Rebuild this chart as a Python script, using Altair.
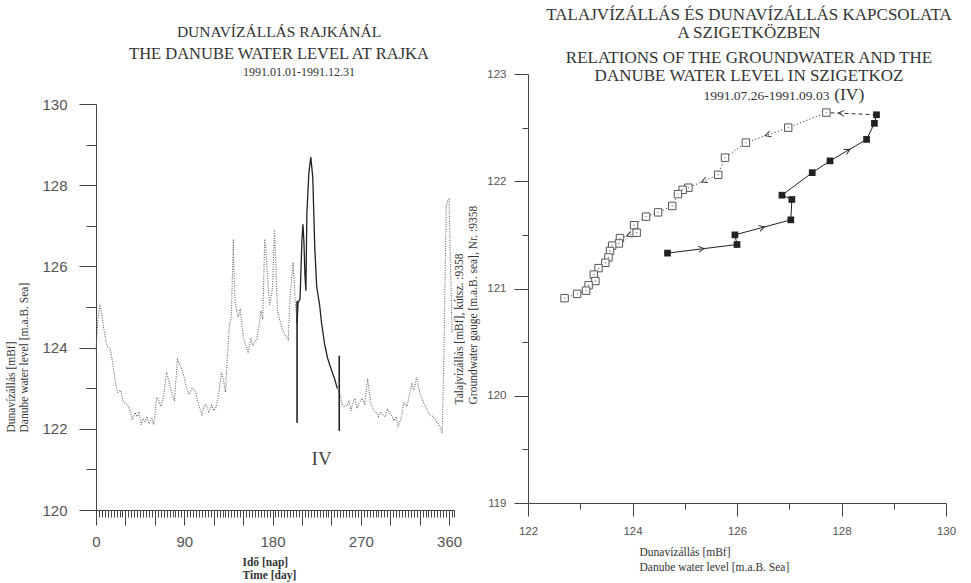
import math
import altair as alt
import pandas as pd

# ---------------- left panel: Danube water level at Rajka, 1991 ----------------
pre_days = [0, 2, 4, 6, 8, 11, 13, 15, 18, 20, 22, 25, 28, 32, 35, 37, 40, 42, 44, 46,
            48, 50, 52, 54, 57, 59, 62, 64, 66, 69, 72, 74, 76, 78, 80, 83, 85, 88, 91, 93,
            95, 98, 101, 103, 105, 108, 110, 112, 115, 118, 120, 122, 125, 128, 130, 132, 134, 136, 138, 140,
            141, 142, 144, 145, 147, 150, 152, 155, 158, 160, 162, 164, 166, 168, 170, 172, 173, 174, 176, 177,
            179, 180, 182, 183, 185, 188, 190, 193, 196, 198, 201, 203, 205]
pre_levels = [123.95, 124.7, 125.08, 124.8, 124.45, 124.05, 124.0, 123.92, 123.45, 123.1,
              122.9, 122.95, 122.65, 122.6, 122.45, 122.22, 122.4, 122.3, 122.42, 122.1,
              122.25, 122.18, 122.3, 122.12, 122.25, 122.1, 122.78, 122.7, 122.55, 122.8,
              123.4, 123.2, 123.0, 122.85, 122.68, 123.7, 123.6, 123.45, 123.15, 122.95,
              122.85, 123.0, 122.95, 122.75, 122.55, 122.35, 122.55, 122.6, 122.42, 122.58,
              122.45, 122.5, 122.85, 123.4, 123.2, 122.9, 123.8, 124.55, 124.75, 126.67,
              125.6, 125.1, 124.85, 124.75, 124.95, 124.3, 124.1, 123.9, 124.2, 124.05,
              124.15, 124.2, 124.5, 124.9, 124.7, 126.67, 126.5, 126.1, 125.4, 125.05,
              125.3, 125.5, 126.9, 126.3, 124.9, 124.62, 124.45, 124.3, 124.2, 125.28,
              126.1, 125.2, 124.6]

iv_days = [205, 206, 208, 210, 211, 212, 213, 214, 215, 217, 219, 221, 223, 225, 228, 230,
           233, 236, 240, 243, 246]
iv_levels = [124.6, 125.1, 125.2, 126.67, 127.04, 126.6, 125.8, 125.4, 127.3, 128.3, 128.69,
             128.2, 126.5, 125.5, 125.05, 124.6, 124.1, 123.75, 123.45, 123.25, 123.0]

post_days = [246, 249, 251, 253, 256, 258, 260, 262, 264, 266, 268, 271, 274, 277, 280, 283,
             286, 288, 290, 292, 295, 297, 299, 302, 304, 306, 308, 311, 314, 317, 320, 322,
             324, 327, 329, 331, 334, 336, 339, 341, 344, 346, 348, 350, 353, 355, 357, 358,
             360, 361, 363, 365]
post_levels = [123.0, 122.82, 122.6, 122.55, 122.57, 122.7, 122.45, 122.65, 122.75, 122.5,
               122.62, 122.75, 122.62, 123.23, 122.65, 122.45, 122.4, 122.3, 122.42, 122.35,
               122.3, 122.5, 122.4, 122.3, 122.2, 122.3, 122.05, 122.25, 122.65, 122.55,
               122.9, 123.1, 122.95, 123.27, 123.0, 122.82, 122.65, 122.55, 122.4, 122.33,
               122.3, 122.22, 122.15, 122.1, 121.9, 124.2, 127.4, 127.6, 127.65, 126.5,
               124.4, 124.45]

marker_days = [205, 248]
marker_low = [122.15, 121.95]
marker_high = [125.15, 123.8]

period_label = ["IV"]
period_label_day = [230]
period_label_level = [121.25]

left_date_text = ["1991.01.01-1991.12.31"]
left_date_pos = ([207], [130.79])

left_x_major = [0, 30, 60, 90, 120, 150, 180, 210, 240, 270, 300, 330, 360]
left_x_minor = [d for d in range(0, 366, 3)] + [365]
left_y_major = [120, 122, 124, 126, 128, 130]
left_y_minor = [121, 123, 125, 127, 129]

# ---------------- right panel: groundwater vs Danube level ----------------
rise_danube = [124.67, 126.00, 125.96, 127.03, 127.05, 126.86, 127.44, 127.78, 128.48, 128.63, 128.67]
rise_ground = [121.33, 121.41, 121.50, 121.64, 121.83, 121.87, 122.08, 122.19, 122.39, 122.54, 122.62]

fall_danube = [127.71, 126.98, 126.17, 125.77, 125.64, 125.07, 124.96, 124.87, 124.76, 124.49,
               124.26, 124.03, 124.08, 123.76, 123.74, 123.61, 123.57, 123.54, 123.48, 123.35,
               123.26, 123.29, 123.16, 123.11, 122.94, 122.70]
fall_ground = [122.64, 122.50, 122.36, 122.22, 122.06, 121.94, 121.92, 121.88, 121.77, 121.71,
               121.67, 121.59, 121.52, 121.47, 121.42, 121.40, 121.35, 121.29, 121.24, 121.19,
               121.13, 121.07, 121.03, 120.98, 120.95, 120.91]

rise_arrow_segments = [0, 2, 7]
fall_arrow_segments = [1, 4, 12]
right_x_major = [122, 124, 126, 128, 130]
right_x_minor = [123, 125, 127, 129]
right_y_major = [119, 120, 121, 122, 123]
right_y_minor = [119.5, 120.5, 121.5, 122.5]

date_text = ["1991.07.26-1991.09.03"]
date_pos = ([127.77], [122.795])
iv_text = ["(IV)"]
iv_pos = ([127.86], [122.805])

# ---------------- styling ----------------
LW, LH, LTOP = 358, 436, 30
RW, RH = 418, 429
serif = "Liberation Serif"
sans = "Liberation Sans"
ink = "#333333"
dot_ink = "#666666"

xl = alt.Scale(domain=[0, 365], nice=False, zero=False)
yl = alt.Scale(domain=[120, 130], range=[LH, LTOP], nice=False, zero=False)

pre = pd.DataFrame({"day": pre_days, "lvl": pre_levels, "seg": "pre"})
post = pd.DataFrame({"day": post_days, "lvl": post_levels, "seg": "post"})
dotted_df = pd.concat([pre, post], ignore_index=True)
iv_df = pd.DataFrame({"day": iv_days, "lvl": iv_levels})
mark_df = pd.DataFrame({"day": marker_days, "lo": marker_low, "hi": marker_high})
lab_df = pd.DataFrame({"day": period_label_day, "lvl": period_label_level, "t": period_label})
ldate_df = pd.DataFrame({"day": left_date_pos[0], "lvl": left_date_pos[1], "t": left_date_text})

left_main = alt.Chart(dotted_df).mark_line(
    color=dot_ink, strokeWidth=1.1, strokeDash=[1, 1.4]
).encode(
    x=alt.X("day:Q", scale=xl, axis=alt.Axis(
        orient="bottom", values=left_x_major,
        labelExpr="datum.value % 90 === 0 ? datum.label : ''",
        tickSize=15, labelPadding=9, labelFontSize=15, labelFlush=False, labelOverlap=False,
        title=["Idő [nap]", "Time [day]"], titleFont=serif, titleFontSize=11.5,
        titleFontWeight="bold", titleAlign="left", titleX=146, titleY=46,
        titleBaseline="top", titleLineHeight=13.5)),
    y=alt.Y("lvl:Q", scale=yl, axis=alt.Axis(
        orient="left", values=left_y_major, tickSize=17, labelPadding=12,
        labelFontSize=15, labelFlush=False, labelOverlap=False,
        title=["Dunavízállás [mBf]", "Danube water level [m.a.B. Sea]"],
        titleFont=serif, titleFontSize=11.5, titleFontWeight="normal",
        titleAlign="left", titleBaseline="top", titleX=-91, titleY=358,
        titleLineHeight=13)),
    detail="seg:N",
)

left_iv = alt.Chart(iv_df).mark_line(color="#222222", strokeWidth=1.3).encode(
    x=alt.X("day:Q", scale=xl, axis=None),
    y=alt.Y("lvl:Q", scale=yl, axis=None),
)

left_rules = alt.Chart(mark_df).mark_rule(color="#222222", strokeWidth=1.6).encode(
    x=alt.X("day:Q", scale=xl, axis=None),
    y=alt.Y("lo:Q", scale=yl, axis=None),
    y2="hi:Q",
)

left_label = alt.Chart(lab_df).mark_text(font=serif, fontSize=19, color="#444444").encode(
    x=alt.X("day:Q", scale=xl, axis=None),
    y=alt.Y("lvl:Q", scale=yl, axis=None),
    text="t:N",
)

left_date = alt.Chart(ldate_df).mark_text(font=serif, fontSize=12, color=ink).encode(
    x=alt.X("day:Q", scale=xl, axis=None),
    y=alt.Y("lvl:Q", scale=yl, axis=None),
    text="t:N",
)

left_minor = alt.Chart(iv_df).mark_point(opacity=0).encode(
    x=alt.X("day:Q", scale=xl, axis=alt.Axis(
        orient="bottom", values=left_x_minor, labels=False, tickSize=7,
        domain=False, title=None)),
    y=alt.Y("lvl:Q", scale=yl, axis=alt.Axis(
        orient="left", values=left_y_minor, labels=False, tickSize=10,
        domain=False, title=None)),
)

left = alt.layer(left_main, left_iv, left_rules, left_label, left_date, left_minor).resolve_axis(
    x="independent", y="independent"
).properties(
    width=LW, height=LH,
    title=alt.TitleParams(
        text="DUNAVÍZÁLLÁS RAJKÁNÁL",
        subtitle="THE DANUBE WATER LEVEL AT RAJKA", anchor="middle", font=serif, fontSize=15.5,
        fontWeight="normal", color=ink, subtitleFont=serif,
        subtitleFontSize=16.5, subtitleColor=ink, subtitlePadding=6, offset=3, dx=4),
)

# ---------- right ----------
xr = alt.Scale(domain=[122, 130], nice=False, zero=False)
yr = alt.Scale(domain=[119, 123], nice=False, zero=False)
ppx, ppy = RW / 8.0, RH / 4.0

rise_df = pd.DataFrame({"dl": rise_danube, "gl": rise_ground, "i": range(len(rise_danube))})
fall_df = pd.DataFrame({"dl": fall_danube, "gl": fall_ground, "i": range(len(fall_danube))})
link_df = pd.DataFrame({"dl": [rise_danube[-1], fall_danube[0]],
                        "gl": [rise_ground[-1], fall_ground[0]], "i": [0, 1]})


def arrows(xs, ys, segs, frac=0.5):
    rows = []
    for s in segs:
        x0, y0, x1, y1 = xs[s], ys[s], xs[s + 1], ys[s + 1]
        ang = math.degrees(math.atan2(-(y1 - y0) * ppy, (x1 - x0) * ppx)) % 360
        rows.append({"dl": x0 + (x1 - x0) * frac, "gl": y0 + (y1 - y0) * frac, "ang": ang})
    return rows


arrow_rows = arrows(rise_danube, rise_ground, rise_arrow_segments)
arrow_rows += arrows(fall_danube, fall_ground, fall_arrow_segments)
arrow_rows += arrows(link_df["dl"].tolist(), link_df["gl"].tolist(), [0], frac=0.72)
arrow_df = pd.DataFrame(arrow_rows)

chev = "M -1 -0.8 L 0.5 0 L -1 0.8"


def enc(axis_x=None, axis_y=None):
    return dict(x=alt.X("dl:Q", scale=xr, axis=axis_x), y=alt.Y("gl:Q", scale=yr, axis=axis_y))


r_rise_line = alt.Chart(rise_df).mark_line(color="#222222", strokeWidth=1).encode(
    order="i:Q",
    x=alt.X("dl:Q", scale=xr, axis=alt.Axis(
        orient="bottom", values=right_x_major, tickSize=13, labelPadding=9,
        labelFontSize=11.5, labelFlush=False, labelOverlap=False,
        title=["Dunavízállás [mBf]", "Danube water level [m.a.B. Sea]"],
        titleFont=serif, titleFontSize=11.5, titleFontWeight="normal",
        titleAlign="left", titleBaseline="top", titleX=111, titleY=43,
        titleLineHeight=15)),
    y=alt.Y("gl:Q", scale=yr, axis=alt.Axis(
        orient="left", values=right_y_major, tickSize=14, labelPadding=8,
        labelFontSize=11.5, labelFlush=False, labelOverlap=False,
        title=["Talajvízállás [mBf], kútsz. :9358", "Groundwater gauge [m.a.B. sea], Nr. :9358"],
        titleFont=serif, titleFontSize=11.5, titleFontWeight="normal",
        titleAlign="left", titleBaseline="top", titleX=-75, titleY=330,
        titleLineHeight=14)),
)
r_fall_line = alt.Chart(fall_df).mark_line(color="#444444", strokeWidth=1, strokeDash=[1.2, 2.2]).encode(
    order="i:Q", **enc())
r_link = alt.Chart(link_df).mark_line(color="#333333", strokeWidth=1, strokeDash=[4, 3]).encode(
    order="i:Q", **enc())
r_rise_pts = alt.Chart(rise_df).mark_square(size=45, color="#222222", opacity=1).encode(**enc())
r_fall_pts = alt.Chart(fall_df).mark_square(size=55, fill="white", stroke="#555555",
                                            strokeWidth=1, opacity=1).encode(**enc())
r_fall_dots = alt.Chart(fall_df).mark_circle(size=2, color="#777777", opacity=1).encode(**enc())
r_arrows = alt.Chart(arrow_df).mark_point(shape=chev, size=55, filled=False, color="#333333",
                                          strokeWidth=1, opacity=1).encode(
    angle=alt.Angle("ang:Q", scale=None), **enc())
r_date = alt.Chart(pd.DataFrame({"dl": date_pos[0], "gl": date_pos[1], "t": date_text})).mark_text(
    font=serif, fontSize=13.5, color=ink, align="right", baseline="middle").encode(text="t:N", **enc())
r_iv = alt.Chart(pd.DataFrame({"dl": iv_pos[0], "gl": iv_pos[1], "t": iv_text})).mark_text(
    font=serif, fontSize=17.5, color=ink, align="left", baseline="middle").encode(text="t:N", **enc())
r_minor = alt.Chart(rise_df).mark_point(opacity=0).encode(
    x=alt.X("dl:Q", scale=xr, axis=alt.Axis(orient="bottom", values=right_x_minor, labels=False,
                                            tickSize=6, domain=False, title=None)),
    y=alt.Y("gl:Q", scale=yr, axis=alt.Axis(orient="left", values=right_y_minor, labels=False,
                                            tickSize=6, domain=False, title=None)),
)

right = alt.layer(r_rise_line, r_fall_line, r_link, r_fall_pts, r_fall_dots, r_rise_pts,
                  r_arrows, r_date, r_iv, r_minor).resolve_axis(
    x="independent", y="independent"
).properties(
    width=RW, height=RH,
    title=alt.TitleParams(
        text=["TALAJVÍZÁLLÁS ÉS DUNAVÍZÁLLÁS KAPCSOLATA", "A SZIGETKÖZBEN"],
        subtitle=["RELATIONS OF THE GROUNDWATER AND THE", "DANUBE WATER LEVEL IN SZIGETKOZ"],
        anchor="middle", font=serif, fontSize=17, fontWeight="normal", color=ink,
        lineHeight=18, subtitleFont=serif, subtitleFontSize=17, subtitleColor=ink,
        subtitleLineHeight=18, subtitlePadding=8, offset=-17, dx=12),
)

chart = alt.hconcat(left, right, spacing=74, bounds="flush").configure_view(
    stroke=None
).configure_axis(
    grid=False, domainColor="#444444", tickColor="#444444", domainWidth=1, tickWidth=1,
    labelColor="#555555", labelFont=sans, titleColor=ink,
).properties(background="white", padding={"left": 5, "top": 6, "right": 5, "bottom": 5})

chart.save("out.html", embed_options={"renderer": "svg", "actions": False})
